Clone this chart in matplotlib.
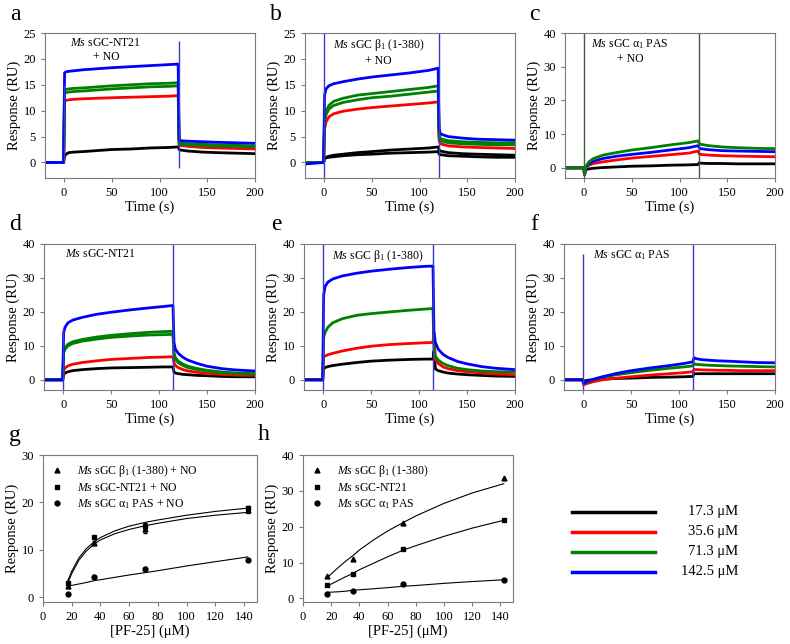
import matplotlib
matplotlib.use("Agg")
from matplotlib import pyplot as plt

plt.rcParams['font.family'] = ['Liberation Serif', 'DejaVu Serif']
plt.rcParams['mathtext.fontset'] = 'custom'
plt.rcParams['mathtext.rm'] = 'Liberation Serif'
plt.rcParams['mathtext.it'] = 'Liberation Serif:italic'

# ---- sensorgram data (RU) ----
conc_labels = ['17.3 \u03bcM', '35.6 \u03bcM', '71.3 \u03bcM', '142.5 \u03bcM']
colors = {'k': 'black', 'r': '#ff0000', 'g': '#008000', 'b': '#0000ff'}

# injection 0-120 s (panels a-c)
t_abc = [-20, -0.5, 0.5, 2, 5, 10, 20, 35, 50, 70, 90, 110, 119.5, 120.5, 122, 130, 145, 160, 180, 200]

a_k = [0, 0, 1.2, 1.6, 1.9, 2.0, 2.1, 2.3, 2.5, 2.6, 2.8, 2.9, 3.0, 2.5, 2.4, 2.2, 2.0, 1.9, 1.8, 1.7]
a_r = [0, 0, 11.9, 12.0, 12.1, 12.2, 12.3, 12.4, 12.5, 12.6, 12.7, 12.8, 12.9, 3.4, 3.3, 3.1, 2.9, 2.8, 2.7, 2.6]
a_g1 = [0, 0, 14.0, 14.1, 14.2, 14.3, 14.4, 14.6, 14.8, 15.0, 15.2, 15.3, 15.4, 3.8, 3.7, 3.6, 3.5, 3.4, 3.3, 3.2]
a_g2 = [0, 0, 13.4, 13.5, 13.6, 13.7, 13.8, 14.0, 14.2, 14.4, 14.6, 14.7, 14.8, 3.6, 3.5, 3.4, 3.3, 3.2, 3.1, 3.0]
a_b = [0, 0, 17.3, 17.5, 17.6, 17.7, 17.9, 18.1, 18.3, 18.5, 18.7, 18.9, 19.0, 4.3, 4.2, 4.1, 4.0, 3.9, 3.8, 3.7]

b_k1 = [0, 0, 0.8, 1.0, 1.2, 1.4, 1.6, 1.9, 2.1, 2.4, 2.6, 2.8, 3.0, 2.4, 2.2, 1.9, 1.7, 1.6, 1.5, 1.4]
b_k2 = [0, 0, 0.7, 0.9, 1.0, 1.1, 1.3, 1.5, 1.6, 1.8, 1.9, 2.0, 2.1, 1.6, 1.5, 1.3, 1.2, 1.1, 1.0, 1.0]
b_r = [0, 0, 6.5, 7.8, 8.8, 9.4, 9.9, 10.3, 10.6, 10.9, 11.2, 11.5, 11.7, 4.2, 3.6, 3.2, 3.0, 2.9, 2.8, 2.7]
b_g1 = [0, 0, 8.5, 9.8, 11.0, 11.8, 12.4, 13.0, 13.3, 13.7, 14.1, 14.5, 14.8, 5.2, 4.6, 4.2, 4.0, 3.9, 3.8, 3.8]
b_g2 = [0, 0, 8.0, 9.2, 10.3, 11.0, 11.6, 12.1, 12.5, 12.8, 13.2, 13.6, 13.8, 4.8, 4.2, 3.8, 3.6, 3.5, 3.4, 3.4]
b_b = [-0.3, 0, 13.0, 14.2, 14.8, 15.2, 15.6, 16.1, 16.5, 16.9, 17.3, 17.8, 18.2, 6.5, 5.5, 5.0, 4.7, 4.5, 4.4, 4.3]

c_k = [0, 0, -1.0, -0.5, -0.3, -0.1, 0.1, 0.3, 0.5, 0.6, 0.8, 0.9, 1.0, 1.5, 1.4, 1.3, 1.3, 1.2, 1.2, 1.2]
c_r = [0, 0, -2.0, 0, 0.8, 1.3, 1.8, 2.4, 2.9, 3.4, 3.9, 4.4, 5.0, 4.2, 4.0, 3.8, 3.6, 3.5, 3.4, 3.3]
c_b = [0, 0, -2.0, 0.2, 1.2, 2.0, 2.8, 3.5, 4.0, 4.6, 5.3, 6.0, 6.6, 6.0, 5.7, 5.4, 5.1, 5.0, 4.9, 4.8]
c_g = [0, 0, -2.0, 0.5, 1.8, 2.8, 3.8, 4.6, 5.3, 6.0, 6.8, 7.5, 8.0, 7.3, 7.0, 6.6, 6.2, 6.0, 5.8, 5.7]

# injection 0-115 s (panels d-f)
t_def = [-20, -0.5, 0.5, 2, 5, 10, 20, 35, 50, 70, 90, 105, 114.5, 115.5, 117, 120, 125, 130, 140, 150, 165, 180, 200]

d_k = [0, 0, 1.5, 2.0, 2.4, 2.7, 3.0, 3.3, 3.5, 3.6, 3.7, 3.8, 3.8, 2.3, 2.0, 1.8, 1.6, 1.5, 1.3, 1.2, 1.0, 0.9, 0.9]
d_r = [0, 0, 2.8, 3.5, 4.1, 4.6, 5.1, 5.6, 6.0, 6.3, 6.6, 6.7, 6.8, 5.0, 4.2, 3.6, 3.0, 2.6, 2.2, 1.9, 1.6, 1.4, 1.3]
d_g1 = [0, 0, 8.5, 9.5, 10.5, 11.2, 11.9, 12.6, 13.1, 13.6, 14.0, 14.2, 14.3, 8.0, 6.5, 5.5, 4.6, 4.0, 3.3, 2.8, 2.3, 2.0, 1.8]
d_g2 = [0, 0, 8.0, 9.0, 10.0, 10.7, 11.4, 12.0, 12.5, 12.9, 13.2, 13.3, 13.4, 7.5, 6.0, 5.0, 4.2, 3.6, 3.0, 2.6, 2.1, 1.9, 1.7]
d_b = [0, 0, 14.0, 15.5, 16.8, 17.6, 18.4, 19.3, 19.9, 20.6, 21.2, 21.6, 21.9, 11.0, 9.0, 7.8, 6.6, 5.8, 4.8, 4.0, 3.3, 2.9, 2.6]

e_k = [0, 0, 3.3, 3.6, 3.9, 4.2, 4.6, 5.1, 5.5, 5.8, 6.0, 6.1, 6.1, 8.5, 3.2, 2.7, 2.3, 2.0, 1.7, 1.5, 1.3, 1.1, 1.0]
e_r = [0, 0, 6.8, 7.0, 7.4, 7.8, 8.5, 9.3, 9.9, 10.4, 10.7, 10.9, 11.0, 14.0, 6.0, 4.8, 3.8, 3.3, 2.7, 2.4, 2.0, 1.7, 1.5]
e_g = [0, 0, 12.5, 14.0, 15.5, 16.8, 18.0, 19.0, 19.5, 20.0, 20.5, 20.8, 21.0, 9.0, 7.0, 5.8, 4.8, 4.2, 3.4, 3.0, 2.6, 2.4, 2.3]
e_b = [0, 0, 25.0, 27.5, 28.8, 29.7, 30.6, 31.4, 32.0, 32.6, 33.1, 33.4, 33.5, 14.0, 11.0, 9.0, 7.5, 6.6, 5.4, 4.7, 3.9, 3.4, 3.0]

f_k = [0, 0, -0.5, -0.3, -0.1, 0, 0.2, 0.4, 0.5, 0.7, 0.8, 0.9, 1.0, 1.8, 1.8, 1.8, 1.8, 1.8, 1.8, 1.8, 1.8, 1.8, 1.8]
f_r = [0, 0, -1.5, -1.3, -1.0, -0.6, 0, 0.5, 0.9, 1.4, 1.8, 2.1, 2.4, 3.1, 3.0, 3.0, 2.9, 2.9, 2.8, 2.8, 2.7, 2.7, 2.7]
f_g = [0, 0, -1.0, -0.8, -0.5, 0, 0.8, 1.5, 2.1, 2.8, 3.4, 3.8, 4.1, 4.8, 4.6, 4.5, 4.4, 4.3, 4.2, 4.1, 4.0, 3.9, 3.8]
f_b = [0, 0, -1.0, -0.8, -0.4, 0.1, 0.9, 1.9, 2.7, 3.5, 4.2, 4.8, 5.3, 6.5, 6.3, 6.1, 5.9, 5.8, 5.6, 5.5, 5.3, 5.1, 5.0]

# injection spikes: (time, low, high)
spikes_a = [(0, 0, 15), (120, -1, 23.5)]
spikes_b = [(0, -3, 25), (120, -3, 25)]
spikes_c = [(0, -3, 40), (120, -3, 40)]
spikes_d = [(0, -3, 15), (115, -3, 40)]
spikes_e = [(0, -3, 40), (115, -3, 40)]
spikes_f = [(0, -3, 37), (115, -3, 40)]

# ---- binding isotherms ----
pf25 = [17.3, 35.6, 71.3, 142.5]
g_beta = [2.3, 11.5, 14.3, 18.3]
g_beta_err = [0.3, 0.3, 0.8, 0.5]
g_nt21 = [3.0, 12.7, 15.0, 18.8]
g_nt21_err = [0.3, 0.3, 0.6, 0.4]
g_pas = [0.7, 4.3, 6.0, 7.9]
g_pas_err = [0.2, 0.3, 0.4, 0.2]

fit_x = [17.3, 20, 25, 30, 35.6, 40, 50, 60, 71.3, 80, 100, 120, 142.5]
g_fit_hi = [3.5, 5.5, 8.3, 10.2, 11.7, 12.6, 14.0, 15.0, 15.8, 16.3, 17.3, 18.1, 18.8]
g_fit_lo = [3.0, 5.0, 7.8, 9.7, 11.2, 12.1, 13.4, 14.3, 15.1, 15.6, 16.6, 17.3, 17.9]
g_fit_pas = [2.3, 2.5, 2.8, 3.1, 3.5, 3.7, 4.2, 4.7, 5.2, 5.6, 6.6, 7.5, 8.5]

h_beta = [6.2, 11.0, 21.0, 33.5]
h_nt21 = [3.8, 6.7, 13.8, 21.8]
h_pas = [1.3, 2.0, 4.0, 5.0]
h_fit_beta = [5.8, 6.8, 8.6, 10.3, 12.0, 13.5, 16.3, 18.8, 21.2, 23.0, 26.5, 29.4, 32.0]
h_fit_nt21 = [3.5, 4.0, 5.0, 6.0, 7.0, 8.0, 9.8, 11.6, 13.5, 14.7, 17.3, 19.6, 21.8]
h_fit_pas = [1.7, 1.75, 1.85, 2.0, 2.3, 2.4, 2.7, 3.0, 3.4, 3.6, 4.2, 4.7, 5.2]

W, H = 790, 644
fig = plt.figure(figsize=(W / 100, H / 100), dpi=100)


def add_ax(left, top, right, bottom):
    return fig.add_axes([left / W, 1 - bottom / H, (right - left) / W, (bottom - top) / H])


def style(ax):
    for s in ax.spines.values():
        s.set_color('#7a7a7a')
        s.set_linewidth(0.8)
    ax.tick_params(direction='out', length=3, width=0.8, color='#7a7a7a', labelsize=9)


def sensorgram(ax, t, traces, spikes, spike_col, ymax, txt, tx):
    for y, c in traces:
        ax.plot(t, y, color=colors[c], lw=2.0, solid_joinstyle='round')
    for ts, lo, hi in spikes:
        ax.vlines(ts, lo, hi, color=spike_col, lw=1.0)
    ax.set_xlim(-20, 200)
    ax.set_ylim(-3, ymax)
    ax.set_xticks([0, 50, 100, 150, 200])
    if ymax == 25:
        ax.set_yticks([0, 5, 10, 15, 20, 25])
    else:
        ax.set_yticks([0, 10, 20, 30, 40])
    ax.set_xlabel('Time (s)', fontsize=10.5, labelpad=1)
    ax.set_ylabel('Response (RU)', fontsize=10.5, labelpad=2)
    ax.text(tx, 0.97, txt, transform=ax.transAxes, ha='center', va='top',
            multialignment='center', fontsize=8.5)
    style(ax)


spk = '#3a3ad0'
ax = add_ax(45, 33, 255, 178)
sensorgram(ax, t_abc, [(a_k, 'k'), (a_r, 'r'), (a_g2, 'g'), (a_g1, 'g'), (a_b, 'b')],
           spikes_a, spk, 25, '$\\it{Ms}$ sGC-NT21\n+ NO', 0.29)
ax = add_ax(305, 33, 515, 178)
sensorgram(ax, t_abc, [(b_k1, 'k'), (b_k2, 'k'), (b_r, 'r'), (b_g2, 'g'), (b_g1, 'g'), (b_b, 'b')],
           spikes_b, spk, 25, '$\\it{Ms}$ sGC \u03b2$_1$ (1-380)\n+ NO', 0.35)
ax = add_ax(565, 33, 775, 178)
sensorgram(ax, t_abc, [(c_k, 'k'), (c_r, 'r'), (c_b, 'b'), (c_g, 'g')],
           spikes_c, '#3c5e3c', 40, '$\\it{Ms}$ sGC \u03b1$_1$ PAS\n+ NO', 0.31)

ax = add_ax(44, 244, 255, 390)
sensorgram(ax, t_def, [(d_k, 'k'), (d_r, 'r'), (d_g2, 'g'), (d_g1, 'g'), (d_b, 'b')],
           spikes_d, spk, 40, '$\\it{Ms}$ sGC-NT21', 0.27)
ax = add_ax(304, 244, 515, 390)
sensorgram(ax, t_def, [(e_k, 'k'), (e_r, 'r'), (e_g, 'g'), (e_b, 'b')],
           spikes_e, spk, 40, '$\\it{Ms}$ sGC \u03b2$_1$ (1-380)', 0.35)
ax = add_ax(564, 244, 775, 390)
sensorgram(ax, t_def, [(f_k, 'k'), (f_r, 'r'), (f_g, 'g'), (f_b, 'b')],
           spikes_f, spk, 40, '$\\it{Ms}$ sGC \u03b1$_1$ PAS', 0.32)


def isotherm(ax, pts, fits, labels, ymax, yticks):
    for (y, err, m), lab in zip(pts, labels):
        if err is not None:
            ax.errorbar(pf25, y, yerr=err, fmt='none', ecolor='black', elinewidth=0.8,
                        capsize=1.5)
        ax.plot(pf25, y, m, color='black', ms=3.5, label=lab)
    for f in fits:
        ax.plot(fit_x, f, color='black', lw=0.8)
    ax.set_xlim(0, 149)
    ax.set_ylim(-1, ymax)
    ax.set_xticks(range(0, 141, 20))
    ax.set_yticks(yticks)
    ax.set_xlabel('[PF-25] (\u03bcM)', fontsize=10.5, labelpad=1)
    ax.set_ylabel('Response (RU)', fontsize=10.5, labelpad=2)
    ax.legend(loc='upper left', frameon=False, fontsize=8.5, handlelength=1.0,
              handletextpad=1.2, labelspacing=0.25, borderaxespad=0.3)
    style(ax)


ax = add_ax(43, 455, 257, 602)
isotherm(ax, [(g_beta, g_beta_err, '^'), (g_nt21, g_nt21_err, 's'), (g_pas, g_pas_err, 'o')],
         [g_fit_hi, g_fit_lo, g_fit_pas],
         ['$\\it{Ms}$ sGC \u03b2$_1$ (1-380) + NO', '$\\it{Ms}$ sGC-NT21 + NO',
          '$\\it{Ms}$ sGC \u03b1$_1$ PAS + NO'], 30, [0, 10, 20, 30])
ax = add_ax(303, 455, 513, 602)
isotherm(ax, [(h_beta, None, '^'), (h_nt21, None, 's'), (h_pas, None, 'o')],
         [h_fit_beta, h_fit_nt21, h_fit_pas],
         ['$\\it{Ms}$ sGC \u03b2$_1$ (1-380)', '$\\it{Ms}$ sGC-NT21',
          '$\\it{Ms}$ sGC \u03b1$_1$ PAS'], 40, [0, 10, 20, 30, 40])

# colour key for the concentrations
axl = add_ax(560, 490, 760, 590)
axl.set_xlim(560, 760)
axl.set_ylim(590, 490)
axl.axis('off')
for i, (lab, c) in enumerate(zip(conc_labels, ['k', 'r', 'g', 'b'])):
    yy = 512 + 20 * i
    axl.plot([572, 655], [yy, yy], color=colors[c], lw=2.5)
    axl.text(738, yy, lab, ha='right', va='center', fontsize=10.5)

# panel letters
for lab, x, y in [('a', 15, 15), ('b', 276, 15), ('c', 534, 15), ('d', 15, 225),
                  ('e', 276, 225), ('f', 534, 225), ('g', 15, 435), ('h', 264, 435)]:
    fig.text(x / W, 1 - y / H, lab, fontsize=17, ha='center', va='center')

fig.savefig('out.png', dpi=100)
